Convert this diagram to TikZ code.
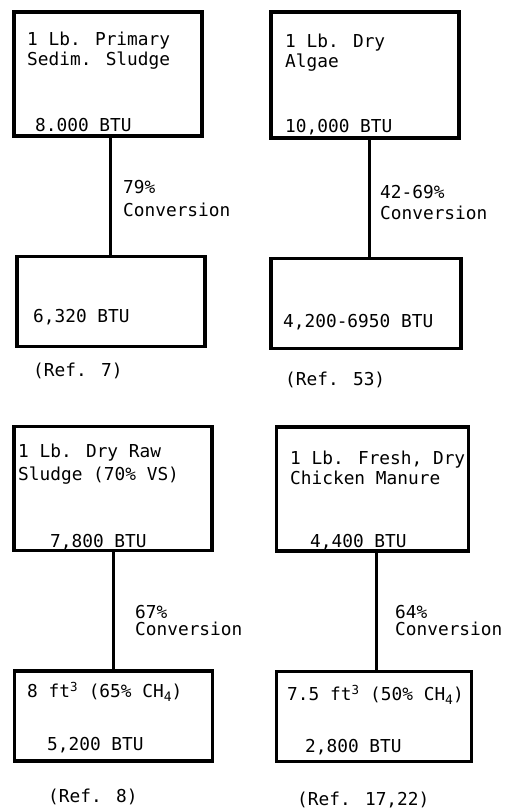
\documentclass[tikz,border=0pt]{standalone}
\usepackage{fontspec}
\setmainfont{DejaVu Sans Mono}
\usetikzlibrary{positioning}
\begin{document}
\begin{tikzpicture}[x=1pt, y=-1pt, node distance=117pt]
	\tikzset{inblock/.style={draw, rectangle, line width=3.5pt, minimum height=124pt, inner sep=0pt},
		outblock/.style={draw, rectangle, line width=3.5pt, minimum height=90pt, inner sep=0pt},
		txt/.style={anchor=west, inner sep=0pt, font=\fontsize{17.8}{20}\selectfont},
		conn/.style={draw, line width=3pt},
	}
	\useasboundingbox (0,0) rectangle (504,812);

	% sludge and algae, top row
	\node [inblock, minimum width=188pt] (primin) at (108,74) {};
	\node [outblock, minimum width=188pt, below=of primin, xshift=3pt] (primout) {};
	\node [inblock, minimum width=188pt, minimum height=126pt] (algaein) at (365,75) {};
	\node [outblock, minimum width=190pt, below=of algaein, xshift=1pt] (algaeout) {};

	% raw sludge and manure, bottom row
	\node [inblock, minimum width=198pt] (rawin) at (113,488.5) {};
	\node [outblock, minimum width=198pt, below=of rawin, xshift=0.5pt] (rawout) {};
	\node [inblock, minimum width=192pt] (manurein) at (372.5,489) {};
	\node [outblock, minimum width=195pt, below=of manurein, xshift=1.5pt] (manureout) {};

	\path[conn] ([xshift=2pt]primin.south) -- ([xshift=2pt]primin.south |- primout.north);
	\path[conn] ([xshift=4pt]algaein.south) -- ([xshift=4pt]algaein.south |- algaeout.north);
	\path[conn] ([xshift=0.5pt]rawin.south) -- ([xshift=0.5pt]rawin.south |- rawout.north);
	\path[conn] ([xshift=3.5pt]manurein.south) -- ([xshift=3.5pt]manurein.south |- manureout.north);

	\node [txt] (primname) at (27,41) {1 Lb. Primary};
	\node [txt] (primname2) at (27,61) {Sedim. Sludge};
	\node [txt] (primbtu) at (35,125) {8.000 BTU};
	\node [txt] (primconv) at (123,187) {79\%};
	\node [txt] (primconv2) at (123,210) {Conversion};
	\node [txt] (primgas) at (33,317) {6,320 BTU};
	\node [txt] (primref) at (33,371) {(Ref. 7)};

	\node [txt] (algaename) at (285,43) {1 Lb. Dry};
	\node [txt] (algaename2) at (285,63) {Algae};
	\node [txt] (algaebtu) at (285,127) {10,000 BTU};
	\node [txt] (algaeconv) at (380,192) {42-69\%};
	\node [txt] (algaeconv2) at (380,213) {Conversion};
	\node [txt] (algaegas) at (283,322) {4,200-6950 BTU};
	\node [txt] (algaeref) at (285,380) {(Ref. 53)};

	\node [txt] (rawname) at (18,453) {1 Lb. Dry Raw};
	\node [txt] (rawname2) at (18,476) {Sludge (70\% VS)};
	\node [txt] (rawbtu) at (50,542) {7,800 BTU};
	\node [txt] (rawconv) at (135,612) {67\%};
	\node [txt] (rawconv2) at (135,629) {Conversion};
	\node [txt] (rawgas) at (27,692) {8 ft\textsuperscript{3} (65\% CH\raisebox{-0.45ex}{\fontsize{13}{13}\selectfont 4})};
	\node [txt] (rawgas2) at (47,745) {5,200 BTU};
	\node [txt] (rawref) at (48,797) {(Ref. 8)};

	\node [txt] (manurename) at (290,460) {1 Lb. Fresh, Dry};
	\node [txt] (manurename2) at (290,478) {Chicken Manure};
	\node [txt] (manurebtu) at (310,542) {4,400 BTU};
	\node [txt] (manureconv) at (395,612) {64\%};
	\node [txt] (manureconv2) at (395,629) {Conversion};
	\node [txt] (manuregas) at (287,695) {7.5 ft\textsuperscript{3} (50\% CH\raisebox{-0.45ex}{\fontsize{13}{13}\selectfont 4})};
	\node [txt] (manuregas2) at (305,747) {2,800 BTU};
	\node [txt] (manureref) at (297,800) {(Ref. 17,22)};

\end{tikzpicture}
\end{document}
